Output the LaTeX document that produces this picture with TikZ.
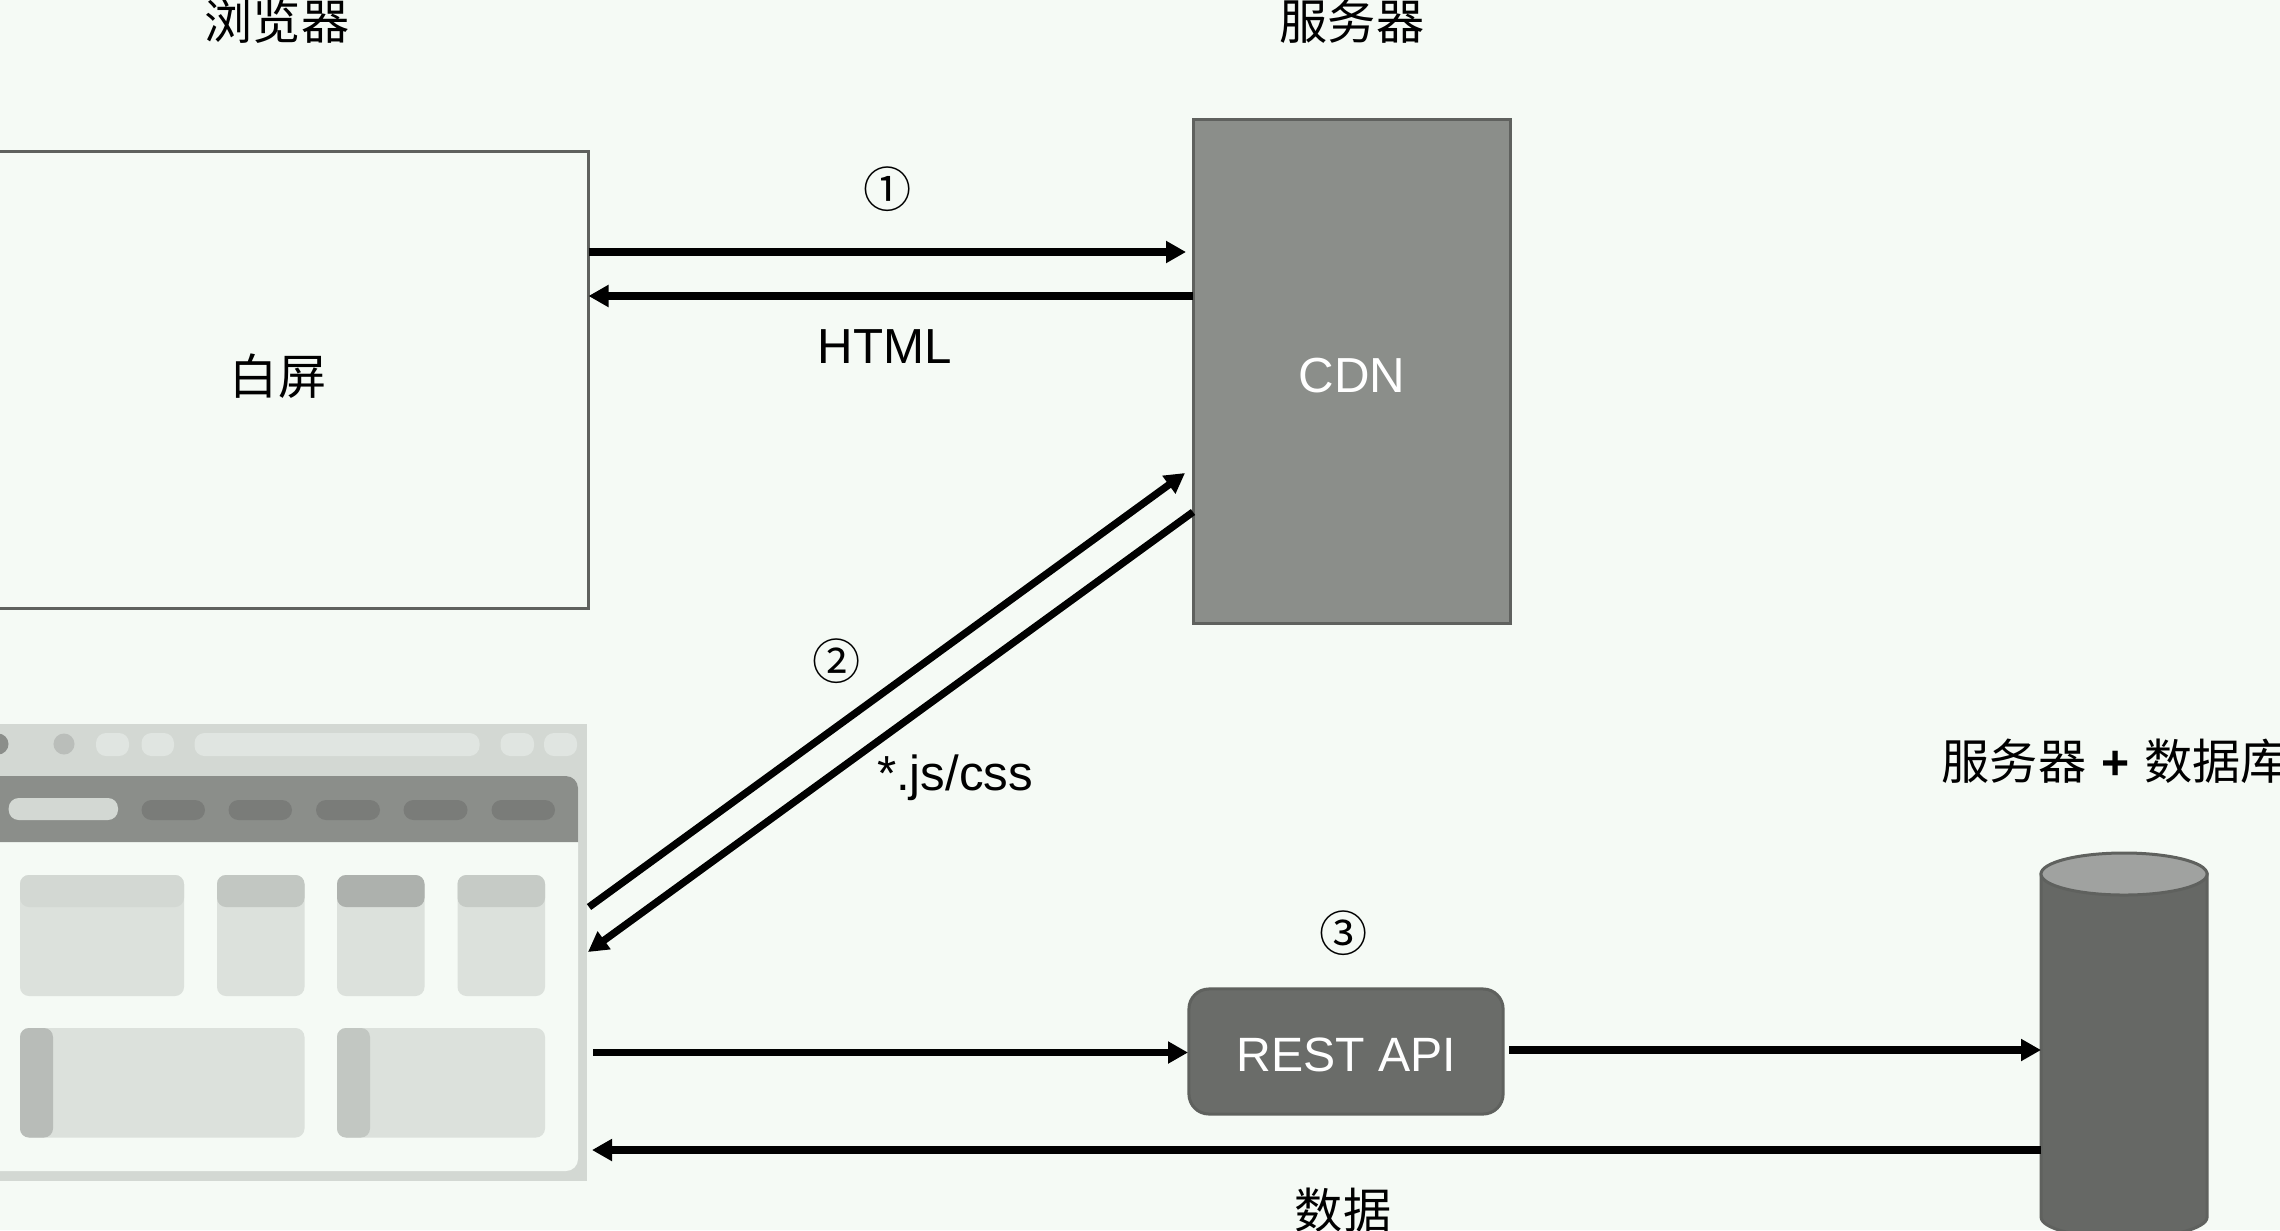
\documentclass[tikz,border=0pt]{standalone}
\usepackage{fontspec}
\setmainfont{Liberation Sans}
\newfontfamily\cjk{Noto Sans CJK SC}
\usetikzlibrary{arrows.meta}
\definecolor{pagebg}{HTML}{F5FAF5}
\definecolor{framegray}{HTML}{D3D8D3}
\definecolor{navgray}{HTML}{8B8E8A}
\definecolor{navpill}{HTML}{7A7C79}
\definecolor{barpill}{HTML}{E0E5E1}
\definecolor{cardgray}{HTML}{DCE1DC}
\definecolor{edgegray}{HTML}{5F615E}
\definecolor{apigray}{HTML}{6A6C69}
\definecolor{dbgray}{HTML}{666865}
\definecolor{dbtop}{HTML}{A0A2A0}
\tikzset{
	conn/.style={line width=0.073cm, -{Triangle[length=0.2cm,width=0.21cm]}},
	plainbox/.style={draw=edgegray, line width=0.03cm, minimum width=6.2cm, minimum height=4.56cm, inner sep=0pt},
	cdnbox/.style={draw=edgegray, fill=navgray, line width=0.03cm, minimum width=3.16cm, minimum height=5.03cm, text=white, inner sep=0pt},
	apibox/.style={draw=edgegray, fill=apigray, line width=0.03cm, rounded corners=0.2cm, minimum width=3.14cm, minimum height=1.25cm, text=white, inner sep=0pt},
	textlabel/.style={font=\fontsize{14}{16}\selectfont, inner sep=0pt},
	cjklabel/.style={font=\cjk\fontsize{13.7}{16}\selectfont, inner sep=0pt},
	pill/.style={rounded corners=0.1cm},
	card/.style={fill=cardgray, rounded corners=0.09cm}
}
\begin{document}
\begin{tikzpicture}[x=0.01cm, y=-0.01cm]
	%%%%% START %%%%%
	
	\fill[pagebg] (0, 0) rectangle (2280, 1230);
	\useasboundingbox (0, 0) rectangle (2280, 1230);
	
	\node[cjklabel] (browsertitle) at (277, 21) {浏览器};
	\node[cjklabel] (servertitle) at (1352, 21) {服务器};
	\node[cjklabel, anchor=west] (dbtitle) at (1941, 761) {服务器\hspace{0.15cm}{\fontspec{Liberation Sans}\bfseries +}\hspace{0.15cm}数据库};
	
	\node[plainbox, cjklabel, text height=0.28cm, text depth=0cm] (blank) at (278, 380) {白屏};
	\node[cdnbox, textlabel, text height=0.42cm, text depth=0cm] (cdn) at (1352, 371.5) {CDN};
	\node[apibox, textlabel, text height=0.40cm, text depth=0cm] (api) at (1346, 1051.5) {\fontsize{13.7}{16}\selectfont REST API};
	
	% browser window
	\fill[framegray] (-20, 724) rectangle (587, 1181);
	\fill[pagebg, rounded corners=0.12cm] (-40, 776) rectangle (578, 1171);
	\fill[navgray] (-20, 842) -- (-20, 776) [rounded corners=0.12cm] -- (578, 776) [sharp corners] -- (578, 842) -- cycle;
	
	\fill[navgray] (-2, 744) circle (0.105cm);
	\fill[black!12!framegray] (64, 744) circle (0.105cm);
	\fill[pill, fill=barpill] (96, 733) rectangle (129, 756);
	\fill[pill, fill=barpill] (141.5, 733) rectangle (174, 756);
	\fill[pill, fill=barpill] (194.5, 733) rectangle (479.5, 756);
	\fill[pill, fill=barpill] (500.5, 733) rectangle (534, 756);
	\fill[pill, fill=barpill] (544, 733) rectangle (577, 756);
	
	\fill[pill, fill=framegray] (8.7, 798) rectangle (118, 820);
	\fill[pill, fill=navpill] (141.5, 800) rectangle (205, 820);
	\fill[pill, fill=navpill] (228.5, 800) rectangle (292, 820);
	\fill[pill, fill=navpill] (316, 800) rectangle (380, 820);
	\fill[pill, fill=navpill] (403.5, 800) rectangle (467.5, 820);
	\fill[pill, fill=navpill] (491.5, 800) rectangle (555, 820);
	
	\fill[card] (20, 875) rectangle (184, 996);
	\fill[card] (217, 875) rectangle (304.5, 996);
	\fill[card] (337, 875) rectangle (424.5, 996);
	\fill[card] (457.5, 875) rectangle (545, 996);
	\fill[card, fill=framegray] (20, 875) rectangle (184, 907);
	\fill[card, fill=black!8!framegray] (217, 875) rectangle (304.5, 907);
	\fill[card, fill=black!18!framegray] (337, 875) rectangle (424.5, 907);
	\fill[card, fill=black!6!framegray] (457.5, 875) rectangle (545, 907);
	
	\fill[card] (20, 1028) rectangle (304.5, 1137.5);
	\fill[card] (337, 1028) rectangle (545, 1137.5);
	\fill[card, fill=black!13!framegray] (20, 1028) rectangle (53, 1137.5);
	\fill[card, fill=black!8!framegray] (337, 1028) rectangle (370, 1137.5);
	
	% database
	\draw[draw=edgegray, fill=dbgray, line width=0.03cm] (2041, 874) -- (2041, 1217) arc (180:360:0.83cm and 0.21cm) -- (2207, 874) -- cycle;
	\draw[draw=edgegray, fill=dbtop, line width=0.03cm] (2124, 874) ellipse (0.83cm and 0.21cm);
	
	\coordinate (blankout) at (588.5, 252);
	\coordinate (cdnin) at (1186, 252);
	\coordinate (cdnout) at (1193, 296);
	\coordinate (blankin) at (588.5, 296);
	\coordinate (appout) at (589, 907);
	\coordinate (cdnindiag) at (1185, 473);
	\coordinate (cdnoutdiag) at (1193, 512);
	\coordinate (appin) at (588, 952);
	\coordinate (appapi) at (593, 1052.5);
	\coordinate (apiin) at (1188, 1052.5);
	\coordinate (apiout) at (1509, 1050);
	\coordinate (dbin) at (2041, 1050);
	\coordinate (dbout) at (2041, 1150);
	\coordinate (appback) at (592, 1150);
	
	\draw[conn] (blankout) -- (cdnin);
	\draw[conn] (cdnout) -- (blankin);
	\draw[conn] (appout) -- (cdnindiag);
	\draw[conn] (cdnoutdiag) -- (appin);
	\draw[conn] (appapi) -- (apiin);
	\draw[conn] (apiout) -- (dbin);
	\draw[conn] (dbout) -- (appback);
	
	\node[cjklabel] (stepone) at (888, 189) {①};
	\node[textlabel] (htmltext) at (884.5, 347) {HTML};
	\node[cjklabel] (steptwo) at (836.5, 661) {②};
	\node[textlabel] (jstext) at (955, 778) {*.js/css};
	\node[cjklabel] (stepthree) at (1343.5, 933) {③};
	\node[cjklabel] (datatext) at (1343, 1210) {数据};
	
	%%%%% END %%%%%
\end{tikzpicture}
\end{document}
